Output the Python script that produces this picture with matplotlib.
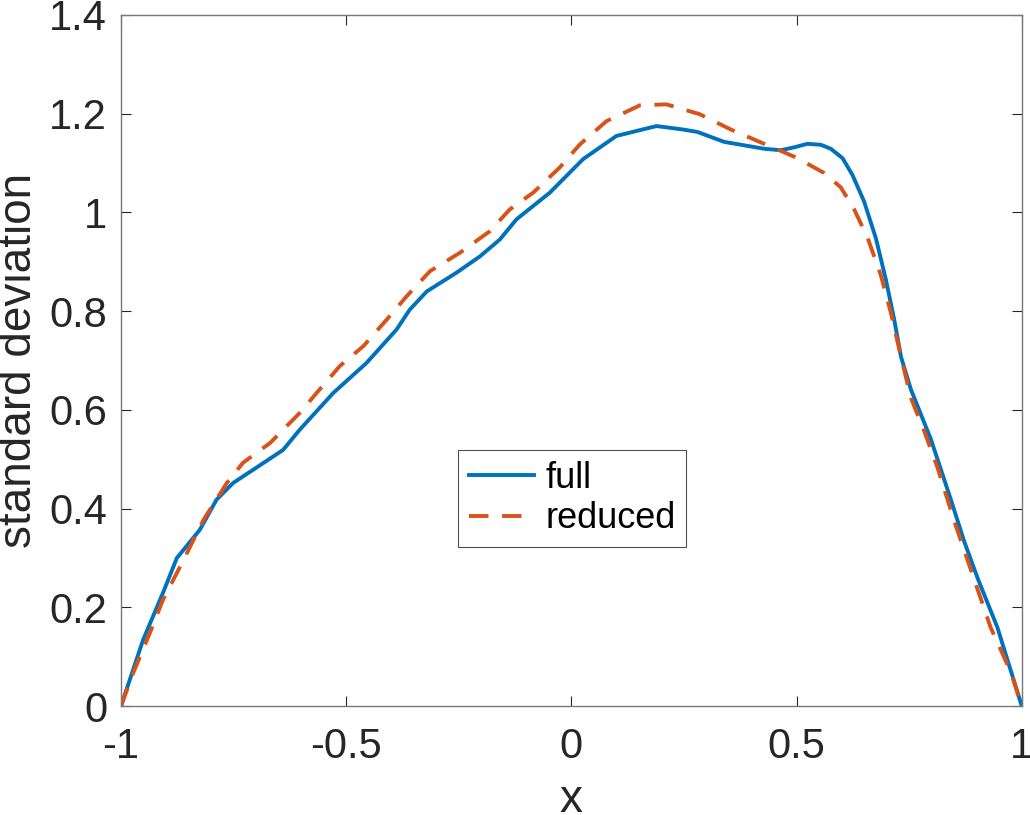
import matplotlib
matplotlib.use("Agg")
import matplotlib.pyplot as plt

# curva "full"
x_full = [-1, -0.951, -0.907, -0.876, -0.825, -0.788, -0.751, -0.706, -0.640, -0.603,
          -0.529, -0.455, -0.388, -0.359, -0.321, -0.255, -0.203, -0.159, -0.122, -0.048,
          0.026, 0.100, 0.189, 0.248, 0.280, 0.339, 0.428, 0.465, 0.495, 0.524,
          0.554, 0.576, 0.602, 0.624, 0.650, 0.676, 0.698, 0.717, 0.732, 0.754,
          0.798, 0.843, 0.872, 0.902, 0.946, 1.0]
y_full = [0, 0.134, 0.229, 0.300, 0.357, 0.418, 0.452, 0.479, 0.519, 0.560,
          0.634, 0.695, 0.763, 0.803, 0.840, 0.878, 0.911, 0.945, 0.986, 1.040,
          1.108, 1.155, 1.175, 1.168, 1.163, 1.143, 1.129, 1.126, 1.132, 1.139,
          1.137, 1.129, 1.110, 1.076, 1.022, 0.948, 0.865, 0.782, 0.707, 0.641,
          0.541, 0.417, 0.334, 0.259, 0.159, 0]

# curva "reduced"
x_red = [-1, -0.973, -0.936, -0.907, -0.869, -0.817, -0.765, -0.729, -0.669, -0.603,
         -0.566, -0.514, -0.462, -0.410, -0.366, -0.314, -0.248, -0.181, -0.137, -0.085,
         -0.026, 0.019, 0.078, 0.152, 0.211, 0.285, 0.354, 0.428, 0.472, 0.502,
         0.561, 0.598, 0.628, 0.658, 0.687, 0.709, 0.732, 0.754, 0.783, 0.813,
         0.850, 0.887, 0.931, 0.976, 1.0]
y_red = [0, 0.067, 0.148, 0.215, 0.282, 0.377, 0.452, 0.493, 0.533, 0.594,
         0.634, 0.689, 0.729, 0.783, 0.830, 0.881, 0.918, 0.962, 1.006, 1.040,
         1.091, 1.138, 1.185, 1.217, 1.219, 1.199, 1.168, 1.139, 1.122, 1.110,
         1.080, 1.051, 1.006, 0.948, 0.873, 0.798, 0.707, 0.624, 0.558, 0.483,
         0.375, 0.276, 0.159, 0.068, 0]

x_ticks = [-1, -0.5, 0, 0.5, 1]
x_ticklabels = ['-1', '-0.5', '0', '0.5', '1']
y_ticks = [0, 0.2, 0.4, 0.6, 0.8, 1.0, 1.2, 1.4]
y_ticklabels = ['0', '0.2', '0.4', '0.6', '0.8', '1', '1.2', '1.4']

plt.rcParams['font.family'] = ['Liberation Sans', 'DejaVu Sans']

fig = plt.figure(figsize=(10.30, 8.15), dpi=100)
ax = fig.add_axes([0.1175, 0.1337, 0.8745, 0.8479])

ax.plot(x_full, y_full, '-', color='#0072BD', linewidth=2.8, label='full')
ax.plot(x_red, y_red, '--', color='#D95319', linewidth=2.8, dashes=(5, 3.5), label='reduced')

ax.set_xlim(-1, 1)
ax.set_ylim(0, 1.4)
ax.set_xticks(x_ticks)
ax.set_xticklabels(x_ticklabels)
ax.set_yticks(y_ticks)
ax.set_yticklabels(y_ticklabels)
ax.tick_params(direction='in', length=7, width=0.8, color='#262626',
               labelsize=30, labelcolor='#262626', top=True, right=True)
ax.tick_params(axis='x', pad=15)
ax.tick_params(axis='y', pad=10)
for s in ax.spines.values():
    s.set_color('#777777')
    s.set_linewidth(1.0)

ax.set_xlabel('x', fontsize=33, color='#262626', labelpad=8)
ax.set_ylabel('standard deviation', fontsize=33, color='#262626', labelpad=6)

leg = ax.legend(loc='center', bbox_to_anchor=(0.501, 0.300), fontsize=26,
                frameon=True, fancybox=False, edgecolor='#262626',
                handlelength=1.8, handletextpad=0.3, borderpad=0.3, labelspacing=0.15,
                borderaxespad=0)
leg.get_frame().set_linewidth(0.8)

fig.savefig('out.png', dpi=100)
